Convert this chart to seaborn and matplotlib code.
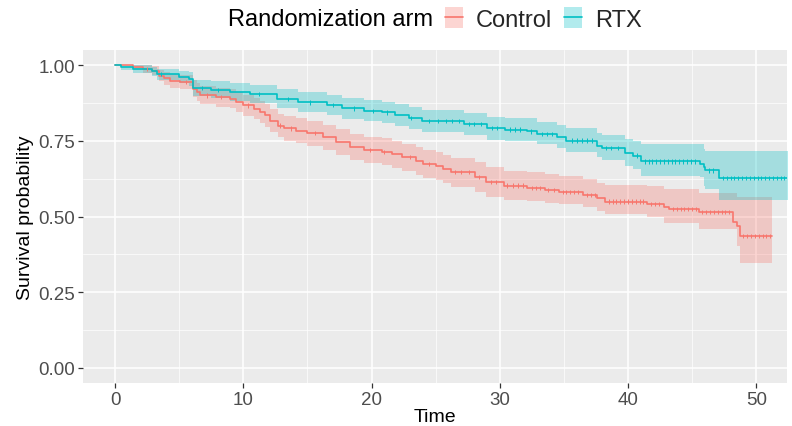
import numpy as np
import pandas as pd
import matplotlib
matplotlib.use("Agg")
import matplotlib.pyplot as plt
from matplotlib.patches import Patch
from matplotlib.lines import Line2D
from matplotlib.legend_handler import HandlerTuple
import seaborn as sns

# ---------------- data ----------------
groups = ["Control", "RTX"]

rtx_time = [0, 0.5, 1.4, 2.9, 3.3, 5.0, 5.8, 6.1, 7.5, 9.0, 10.5, 12.6, 14.3, 16.5, 17.7,
            19.4, 20.8, 21.8, 22.9, 23.9, 27.2, 29.0, 30.4, 32.1, 32.9, 34.5, 35.2, 37.6,
            38.0, 39.8, 40.4, 41.0, 45.6, 45.9, 46.0, 47.1, 55.0]
rtx_surv = [1.000, 0.995, 0.988, 0.979, 0.970, 0.962, 0.954, 0.925, 0.918, 0.912, 0.904,
            0.888, 0.877, 0.868, 0.857, 0.849, 0.844, 0.835, 0.825, 0.815, 0.806, 0.792,
            0.787, 0.781, 0.773, 0.762, 0.751, 0.734, 0.726, 0.709, 0.701, 0.682, 0.674,
            0.663, 0.652, 0.627, 0.627]
rtx_lower = [1.000, 0.985, 0.975, 0.963, 0.952, 0.942, 0.932, 0.898, 0.890, 0.883, 0.874,
             0.857, 0.845, 0.835, 0.823, 0.815, 0.809, 0.800, 0.789, 0.779, 0.769, 0.754,
             0.750, 0.748, 0.738, 0.726, 0.714, 0.695, 0.685, 0.666, 0.657, 0.635, 0.630,
             0.600, 0.591, 0.556, 0.556]
rtx_upper = [1.000, 1.000, 1.000, 0.995, 0.988, 0.982, 0.976, 0.952, 0.946, 0.941, 0.934,
             0.920, 0.910, 0.901, 0.891, 0.884, 0.879, 0.871, 0.861, 0.852, 0.843, 0.830,
             0.826, 0.825, 0.813, 0.803, 0.793, 0.777, 0.770, 0.755, 0.748, 0.740, 0.740,
             0.723, 0.718, 0.715, 0.715]

ctl_time = [0, 1.4, 2.2, 2.9, 3.4, 3.8, 4.3, 5.1, 6.1, 6.4, 6.6, 7.9, 9.0, 9.4, 10.0, 10.8,
            11.3, 11.7, 12.1, 12.7, 13.2, 14.1, 15.0, 16.2, 17.2, 18.3, 19.4, 20.8, 21.6,
            22.4, 23.5, 24.0, 25.0, 25.6, 26.2, 28.1, 28.9, 30.3, 32.1, 33.5, 34.6, 36.5,
            37.6, 38.2, 41.5, 42.8, 43.2, 45.5, 48.2, 48.5, 48.75, 51.2]
ctl_surv = [1.000, 0.993, 0.988, 0.982, 0.965, 0.957, 0.949, 0.944, 0.922, 0.911, 0.900,
            0.894, 0.889, 0.878, 0.867, 0.856, 0.845, 0.834, 0.817, 0.800, 0.791, 0.783,
            0.775, 0.761, 0.745, 0.728, 0.720, 0.714, 0.706, 0.696, 0.684, 0.674, 0.666,
            0.657, 0.646, 0.630, 0.613, 0.602, 0.595, 0.588, 0.580, 0.571, 0.560, 0.549,
            0.542, 0.531, 0.525, 0.514, 0.481, 0.468, 0.435, 0.435]
ctl_lower = [1.000, 0.983, 0.975, 0.967, 0.946, 0.936, 0.926, 0.920, 0.894, 0.882, 0.870,
             0.863, 0.857, 0.845, 0.833, 0.821, 0.809, 0.797, 0.779, 0.761, 0.751, 0.743,
             0.734, 0.719, 0.703, 0.685, 0.676, 0.670, 0.661, 0.651, 0.638, 0.628, 0.619,
             0.610, 0.598, 0.582, 0.564, 0.556, 0.550, 0.545, 0.540, 0.530, 0.518, 0.509,
             0.500, 0.480, 0.479, 0.459, 0.459, 0.404, 0.345, 0.345]
ctl_upper = [1.000, 1.000, 1.000, 0.997, 0.984, 0.978, 0.972, 0.968, 0.950, 0.940, 0.931,
             0.926, 0.921, 0.911, 0.901, 0.891, 0.881, 0.871, 0.856, 0.840, 0.831, 0.824,
             0.816, 0.803, 0.788, 0.772, 0.764, 0.758, 0.751, 0.741, 0.730, 0.720, 0.712,
             0.704, 0.694, 0.679, 0.662, 0.651, 0.646, 0.640, 0.633, 0.625, 0.612, 0.604,
             0.600, 0.591, 0.591, 0.577, 0.577, 0.564, 0.564, 0.564]

ctl_censor = [2.5, 5.5, 7.2, 8.3, 10.4, 12.9, 13.7, 15.6, 19.9, 21.0, 23.0, 24.5, 26.5,
              27.0, 27.6, 28.4, 29.3, 29.7, 30.6, 31.0, 31.4, 31.8, 32.5, 32.8, 33.1, 33.8,
              34.2, 34.9, 35.2, 35.5, 35.8, 36.1, 36.8, 37.1, 37.4, 38.5, 38.8, 39.1, 39.4,
              39.7, 40.0, 40.3, 40.6, 40.9, 41.2, 41.8, 42.1, 42.4, 43.5, 43.8, 44.1, 44.4,
              44.7, 45.0, 45.3, 45.8, 46.1, 46.4, 46.7, 47.0, 47.3, 47.6, 47.9, 49.0, 49.3,
              49.6, 49.9, 50.2, 50.5, 50.8, 51.1]
rtx_censor = [3.6, 6.8, 8.0, 11.2, 13.5, 15.2, 17.0, 18.6, 20.1, 21.2, 23.1, 24.5, 25.2,
              25.8, 26.3, 26.8, 27.6, 28.0, 28.5, 29.4, 29.8, 30.8, 31.2, 31.6, 32.4, 33.3,
              33.7, 34.1, 35.6, 36.0, 36.4, 36.8, 37.2, 38.3, 38.7, 39.2, 40.7, 41.3, 41.6,
              41.9, 42.2, 42.5, 42.8, 43.1, 43.4, 43.7, 44.0, 44.3, 44.6, 44.9, 45.2, 46.3,
              46.6, 47.4, 47.7, 48.0, 48.3, 48.6, 48.9, 49.2, 49.5, 49.8, 50.1, 50.4, 50.7,
              51.0, 51.3, 51.6, 51.9, 52.2]

# ---------------- build tables ----------------
curves = pd.concat([
    pd.DataFrame({"time": ctl_time, "surv": ctl_surv, "lower": ctl_lower,
                  "upper": ctl_upper, "arm": "Control"}),
    pd.DataFrame({"time": rtx_time, "surv": rtx_surv, "lower": rtx_lower,
                  "upper": rtx_upper, "arm": "RTX"}),
], ignore_index=True)


def surv_at(times, t_grid, s_grid):
    idx = np.searchsorted(np.asarray(t_grid), np.asarray(times), side="right") - 1
    return np.asarray(s_grid)[idx]


censor = pd.concat([
    pd.DataFrame({"time": ctl_censor, "surv": surv_at(ctl_censor, ctl_time, ctl_surv),
                  "arm": "Control"}),
    pd.DataFrame({"time": rtx_censor, "surv": surv_at(rtx_censor, rtx_time, rtx_surv),
                  "arm": "RTX"}),
], ignore_index=True)

palette = {"Control": "#F8766D", "RTX": "#00BFC4"}

# ---------------- style ----------------
sns.set_theme(style="darkgrid")
plt.rcParams["font.family"] = ["Liberation Sans", "DejaVu Sans"]
plt.rcParams["axes.facecolor"] = "#EBEBEB"

fig = plt.figure(figsize=(7.92, 4.27), dpi=100)
ax = fig.add_axes([83 / 792, 1 - 384 / 427, (787 - 83) / 792, (384 - 51) / 427])

for arm in groups:
    d = curves[curves["arm"] == arm]
    ax.fill_between(d["time"], d["lower"], d["upper"], step="post",
                    color=palette[arm], alpha=0.3, linewidth=0, zorder=2)

sns.lineplot(data=curves, x="time", y="surv", hue="arm", palette=palette,
             drawstyle="steps-post", linewidth=1.2, estimator=None, sort=False,
             legend=False, ax=ax, zorder=3)
sns.scatterplot(data=censor, x="time", y="surv", hue="arm", palette=palette,
                marker="|", s=10, linewidth=0.7, legend=False, ax=ax, zorder=4)

ax.set_xlim(-2.5, 52.4)
ax.set_ylim(-0.05, 1.05)
ax.set_xticks([0, 10, 20, 30, 40, 50])
ax.set_yticks([0, 0.25, 0.5, 0.75, 1.0])
ax.set_yticklabels(["0.00", "0.25", "0.50", "0.75", "1.00"])
ax.set_xticks([5, 15, 25, 35, 45], minor=True)
ax.set_yticks([0.125, 0.375, 0.625, 0.875], minor=True)
ax.grid(which="major", color="white", linewidth=1.1)
ax.grid(which="minor", color="white", linewidth=0.5)
for s in ax.spines.values():
    s.set_visible(False)
ax.tick_params(axis="both", which="major", length=3.5, width=0.9, color="#333333",
               labelsize=13.5, labelcolor="#4D4D4D", pad=2, left=True, bottom=True)
ax.tick_params(axis="both", which="minor", length=0)
ax.set_xlabel("Time", fontsize=14, color="black", labelpad=0)
ax.set_ylabel("Survival probability", fontsize=14, color="black", labelpad=3)

# legend at top
fig.text(228 / 792, 1 - 20 / 427, "Randomization arm", fontsize=17, ha="left",
         va="center", color="black")
handles = []
for arm in groups:
    handles.append((Patch(facecolor=palette[arm], alpha=0.3, edgecolor="none"),
                    Line2D([0], [0], color=palette[arm], lw=1.2)))
fig.legend(handles, groups, loc="center left", bbox_to_anchor=(445 / 792, 1 - 20 / 427),
           ncol=2, frameon=False, fontsize=17, handler_map={tuple: HandlerTuple(ndivide=1)},
           handlelength=0.76, handleheight=0.95, handletextpad=0.55, columnspacing=0.5,
           borderaxespad=0, borderpad=0)

fig.savefig("out.png", dpi=100, facecolor="white")
